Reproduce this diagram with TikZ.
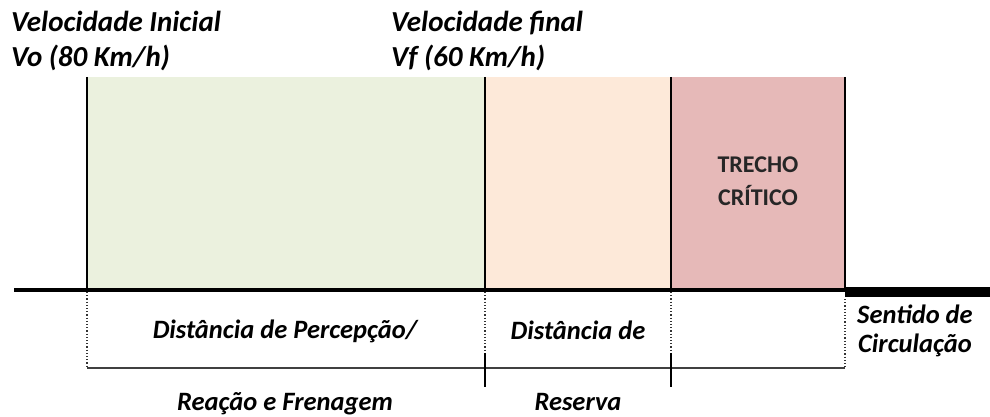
\documentclass[tikz,border=0pt]{standalone}
\usepackage{fontspec}
\setmainfont{Carlito}
\definecolor{cgreen}{HTML}{EBF1DE}
\definecolor{cpeach}{HTML}{FDE9D9}
\definecolor{cred}{HTML}{E6B9B8}
\begin{document}
\begin{tikzpicture}[x=1pt,y=-1pt,
  toplabel/.style={anchor=base west,inner sep=0pt,font=\fontsize{29}{33}\selectfont\bfseries\itshape},
  lowlabel/.style={anchor=base,inner sep=0pt,font=\fontsize{26.5}{30}\selectfont\bfseries\itshape},
  critlabel/.style={anchor=base,inner sep=0pt,font=\fontsize{24}{28}\selectfont\bfseries,text=black!85},
  border/.style={line width=2pt},
  dotline/.style={dotted,line width=1.2pt,black!80},
  tick/.style={line width=1.5pt}]
\useasboundingbox (0,0) rectangle (990,417);
% zones
\fill[cgreen] (87,77) rectangle (485,289);
\fill[cpeach] (485,77) rectangle (671,289);
\fill[cred] (671,77) rectangle (845,289);
\coordinate (g1) at (87,77);
\coordinate (g2) at (485,77);
\coordinate (g3) at (671,77);
\coordinate (g4) at (845,77);
\coordinate (b1) at (87,290);
\coordinate (b2) at (485,290);
\coordinate (b3) at (671,290);
\coordinate (b4) at (845,290);
\draw[border] (g1) -- (b1);
\draw[border] (g2) -- (b2);
\draw[border] (g3) -- (b3);
\draw[border] (g4) -- (b4);
% road line
\coordinate (roadstart) at (14,290);
\draw[line width=4pt] (roadstart) -- (b4);
\fill (845,287) rectangle (990,297);
% dotted verticals
\coordinate (d1) at (87,368);
\coordinate (d2) at (485,368);
\coordinate (d3) at (671,368);
\coordinate (d4) at (845,368);
\draw[dotline] (87,292) -- (d1);
\draw[dotline] (485,292) -- (d2);
\draw[dotline] (671,292) -- (d3);
\draw[dotline] (845,299) -- (d4);
\draw[line width=1.2pt,black!75] (d1) -- (d4);
\draw[tick] (485,353) -- (485,387);
\draw[tick] (671,353) -- (671,387);
% texts
\node[toplabel] (vi1) at (11,32) {Velocidade Inicial};
\node[toplabel] (vi2) at (11,67) {Vo (80 Km/h)};
\node[toplabel] (vf1) at (391,32) {Velocidade final};
\node[toplabel] (vf2) at (391,67) {Vf (60 Km/h)};
\node[critlabel] (tc1) at (758,172) {TRECHO};
\node[critlabel] (tc2) at (758,205) {CRÍTICO};
\node[lowlabel] (dp1) at (285,338) {Distância de Percepção/};
\node[lowlabel] (dp2) at (285,410) {Reação e Frenagem};
\node[lowlabel] (dr1) at (578,339) {Distância de};
\node[lowlabel] (dr2) at (578,410) {Reserva};
\node[lowlabel,anchor=base west] (sc1) at (857,323) {Sentido de};
\node[lowlabel,anchor=base west] (sc2) at (858,352) {Circulação};
\end{tikzpicture}
\end{document}
